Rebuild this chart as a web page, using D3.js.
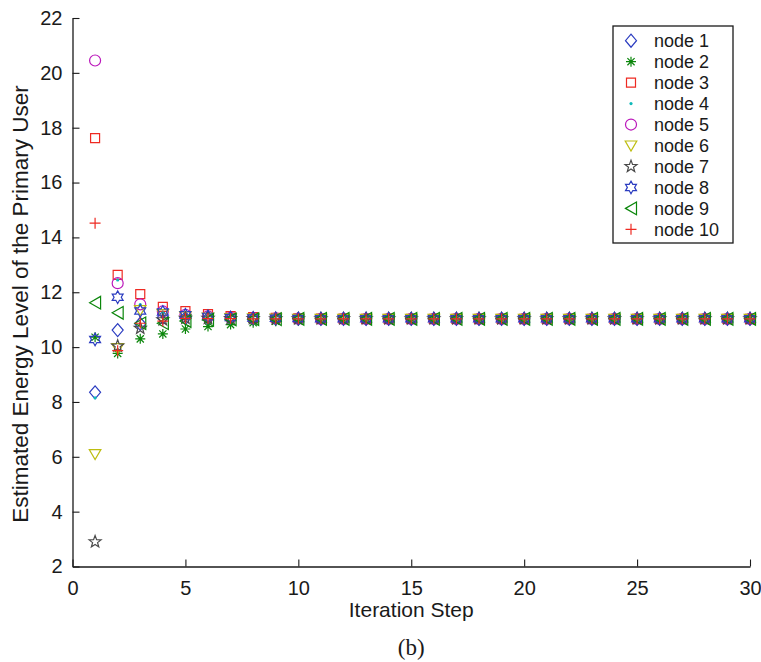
<!DOCTYPE html>
<html>
<head>
<meta charset="utf-8">
<script src="https://cdn.jsdelivr.net/npm/d3@7/dist/d3.min.js"></script>
<style>
  html, body { margin: 0; padding: 0; background: #ffffff; }
  svg text { font-family: "Liberation Sans", Arial, Helvetica, sans-serif; fill: #1a1a1a; }
</style>
</head>
<body>
<div id="chart"></div>
<script>
// Consensus iterations: estimated primary-user energy level per node
const iterations = d3.range(1, 31);
const nodeNames = ["node 1", "node 2", "node 3", "node 4", "node 5",
                   "node 6", "node 7", "node 8", "node 9", "node 10"];

const node1  = [8.35, 10.62, 10.85, 11.08, 11.06, 11.05, 11.04, 11.04, 11.03, 11.03, 11.03, 11.03, 11.03, 11.03, 11.03, 11.03, 11.03, 11.03, 11.03, 11.03, 11.03, 11.03, 11.03, 11.03, 11.03, 11.03, 11.03, 11.03, 11.03, 11.03];
const node2  = [10.36, 9.77, 10.30, 10.48, 10.66, 10.75, 10.82, 10.89, 10.94, 10.97, 10.99, 11.00, 11.01, 11.02, 11.02, 11.03, 11.03, 11.03, 11.03, 11.03, 11.03, 11.03, 11.03, 11.03, 11.03, 11.03, 11.03, 11.03, 11.03, 11.03];
const node3  = [17.62, 12.63, 11.93, 11.47, 11.31, 11.20, 11.13, 11.09, 11.07, 11.05, 11.04, 11.04, 11.03, 11.03, 11.03, 11.03, 11.03, 11.03, 11.03, 11.03, 11.03, 11.03, 11.03, 11.03, 11.03, 11.03, 11.03, 11.03, 11.03, 11.03];
const node4  = [8.15, 12.45, 11.55, 11.25, 11.15, 11.10, 11.07, 11.05, 11.04, 11.04, 11.03, 11.03, 11.03, 11.03, 11.03, 11.03, 11.03, 11.03, 11.03, 11.03, 11.03, 11.03, 11.03, 11.03, 11.03, 11.03, 11.03, 11.03, 11.03, 11.03];
const node5  = [20.45, 12.33, 11.56, 11.30, 11.18, 11.12, 11.08, 11.06, 11.05, 11.04, 11.03, 11.03, 11.03, 11.03, 11.03, 11.03, 11.03, 11.03, 11.03, 11.03, 11.03, 11.03, 11.03, 11.03, 11.03, 11.03, 11.03, 11.03, 11.03, 11.03];
const node6  = [6.10, 9.96, 11.35, 11.20, 11.12, 11.08, 11.06, 11.05, 11.04, 11.03, 11.03, 11.03, 11.03, 11.03, 11.03, 11.03, 11.03, 11.03, 11.03, 11.03, 11.03, 11.03, 11.03, 11.03, 11.03, 11.03, 11.03, 11.03, 11.03, 11.03];
const node7  = [2.90, 10.04, 10.69, 11.00, 11.05, 11.05, 11.04, 11.04, 11.03, 11.03, 11.03, 11.03, 11.03, 11.03, 11.03, 11.03, 11.03, 11.03, 11.03, 11.03, 11.03, 11.03, 11.03, 11.03, 11.03, 11.03, 11.03, 11.03, 11.03, 11.03];
const node8  = [10.28, 11.82, 11.32, 11.28, 11.18, 11.12, 11.08, 11.06, 11.05, 11.04, 11.03, 11.03, 11.03, 11.03, 11.03, 11.03, 11.03, 11.03, 11.03, 11.03, 11.03, 11.03, 11.03, 11.03, 11.03, 11.03, 11.03, 11.03, 11.03, 11.03];
const node9  = [11.62, 11.25, 10.87, 10.87, 10.95, 10.99, 11.01, 11.02, 11.02, 11.03, 11.03, 11.03, 11.03, 11.03, 11.03, 11.03, 11.03, 11.03, 11.03, 11.03, 11.03, 11.03, 11.03, 11.03, 11.03, 11.03, 11.03, 11.03, 11.03, 11.03];
const node10 = [14.52, 9.87, 10.87, 10.95, 11.05, 11.04, 11.04, 11.03, 11.03, 11.03, 11.03, 11.03, 11.03, 11.03, 11.03, 11.03, 11.03, 11.03, 11.03, 11.03, 11.03, 11.03, 11.03, 11.03, 11.03, 11.03, 11.03, 11.03, 11.03, 11.03];

const seriesValues = [node1, node2, node3, node4, node5, node6, node7, node8, node9, node10];
const xTicks = [0, 5, 10, 15, 20, 25, 30];
const yTicks = [2, 4, 6, 8, 10, 12, 14, 16, 18, 20, 22];

// marker glyphs, centred on the origin
const markerPaths = {
  diamond:  "M0,-6.5L5.5,0L0,6.5L-5.5,0Z",
  asterisk: "M-5,0H5M0,-5V5M-3.6,-3.6L3.6,3.6M-3.6,3.6L3.6,-3.6",
  square:   "M-4.5,-4.5H4.5V4.5H-4.5Z",
  triDown:  "M-5.8,-4.5H5.8L0,5.5Z",
  triLeft:  "M-5.5,0L5.5,-6.3V6.3Z",
  plus:     "M-5.5,0H5.5M0,-5.5V5.5"
};
function starPath(points, rOuter, rInner) {
  const pts = [];
  for (let i = 0; i < points * 2; i++) {
    const r = i % 2 === 0 ? rOuter : rInner;
    const a = -Math.PI / 2 + i * Math.PI / points;
    pts.push([r * Math.cos(a), r * Math.sin(a)]);
  }
  return "M" + pts.map(p => p[0].toFixed(2) + "," + p[1].toFixed(2)).join("L") + "Z";
}
markerPaths.pentagram = starPath(5, 6.3, 2.6);
markerPaths.hexagram = starPath(6, 6.3, 3.6);

const styles = [
  { shape: "diamond",   color: "#2b3cc0" },
  { shape: "asterisk",  color: "#0b860b" },
  { shape: "square",    color: "#ee2a22" },
  { shape: "dot",       color: "#10baba" },
  { shape: "circle",    color: "#bb18bb" },
  { shape: "triDown",   color: "#bdbd10" },
  { shape: "pentagram", color: "#4a4a4a" },
  { shape: "hexagram",  color: "#2b3cc0" },
  { shape: "triLeft",   color: "#0b860b" },
  { shape: "plus",      color: "#ee2a22" }
];

const width = 761, height = 662;
const margin = { left: 72.5, right: 11, top: 18, bottom: 95.5 };

const svg = d3.select("#chart").append("svg")
  .attr("width", width).attr("height", height);

const x = d3.scaleLinear().domain([0, 30]).range([margin.left, width - margin.right]);
const y = d3.scaleLinear().domain([2, 22]).range([height - margin.bottom, margin.top]);

function drawMarker(sel, style) {
  if (style.shape === "circle") {
    sel.append("circle").attr("r", 5.5)
      .attr("fill", "none").attr("stroke", style.color).attr("stroke-width", 1.2);
  } else if (style.shape === "dot") {
    sel.append("circle").attr("r", 1.6).attr("fill", style.color);
  } else {
    sel.append("path").attr("d", markerPaths[style.shape])
      .attr("fill", "none").attr("stroke", style.color).attr("stroke-width", 1.2)
      .attr("stroke-linejoin", "miter");
  }
}

// axes: bottom and left only, ticks pointing inward
const xAxis = svg.append("g")
  .attr("transform", `translate(0,${y(2)})`)
  .call(d3.axisBottom(x).tickValues(xTicks).tickSizeInner(-7).tickSizeOuter(0).tickPadding(14));
const yAxis = svg.append("g")
  .attr("transform", `translate(${x(0)},0)`)
  .call(d3.axisLeft(y).tickValues(yTicks).tickSizeInner(-7).tickSizeOuter(0).tickPadding(10));

[xAxis, yAxis].forEach(g => {
  g.select(".domain").attr("stroke", "#1a1a1a").attr("stroke-width", 1.3);
  g.selectAll(".tick line").attr("stroke", "#1a1a1a").attr("stroke-width", 1.1);
  g.selectAll(".tick text").attr("font-size", 20)
    .attr("font-family", "'Liberation Sans', Arial, sans-serif").attr("fill", "#1a1a1a");
});

// data markers, node 1 drawn first so node 10 ends on top
seriesValues.forEach((vals, i) => {
  const g = svg.append("g").attr("class", "series");
  vals.forEach((v, j) => {
    const m = g.append("g").attr("transform", `translate(${x(iterations[j])},${y(v)})`);
    drawMarker(m, styles[i]);
  });
});

// axis titles
svg.append("text")
  .attr("x", (x(0) + x(30)) / 2).attr("y", 617)
  .attr("text-anchor", "middle").attr("font-size", 21)
  .text("Iteration Step");

svg.append("text")
  .attr("transform", `translate(28,304) rotate(-90)`)
  .attr("text-anchor", "middle").attr("font-size", 22.5)
  .text("Estimated Energy Level of the Primary User");

svg.append("text")
  .attr("x", (x(0) + x(30)) / 2).attr("y", 655)
  .attr("text-anchor", "middle").attr("font-size", 23)
  .style("font-family", "'Liberation Serif', 'Times New Roman', serif")
  .text("(b)");

// legend
const legend = svg.append("g").attr("transform", "translate(613,26)");
legend.append("rect").attr("width", 120).attr("height", 217)
  .attr("fill", "#ffffff").attr("stroke", "#1a1a1a").attr("stroke-width", 1.3);
nodeNames.forEach((name, i) => {
  const row = legend.append("g").attr("transform", `translate(0,${14.7 + i * 20.96})`);
  const m = row.append("g").attr("transform", "translate(18,0)");
  drawMarker(m, styles[i]);
  row.append("text").attr("x", 41).attr("y", 6.5).attr("font-size", 18).text(name);
});
</script>
</body>
</html>
